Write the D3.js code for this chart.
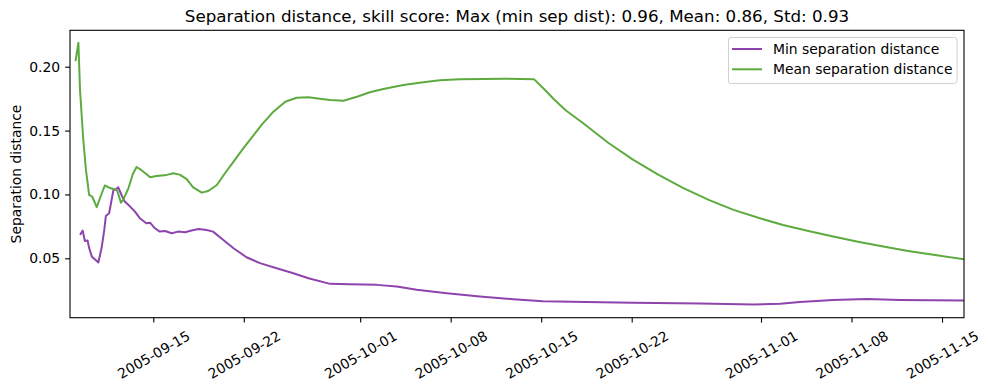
<!DOCTYPE html>
<html>
<head>
<meta charset="utf-8">
<script src="https://cdn.jsdelivr.net/npm/d3@7"></script>
<style>
  body { margin: 0; background: #fff; }
  svg { display: block; font-family: "DejaVu Sans", sans-serif; }
</style>
</head>
<body>
<svg id="chart" width="989" height="390"></svg>
<script>
const titleText = "Separation distance, skill score: Max (min sep dist): 0.96, Mean: 0.86, Std: 0.93";
const yLabel = "Separation distance";
const seriesNames = ["Min separation distance", "Mean separation distance"];
const seriesColors = ["#8e44ad", "#5dab3f"];

const xTickLabels = ["2005-09-15", "2005-09-22", "2005-10-01", "2005-10-08", "2005-10-15", "2005-10-22", "2005-11-01", "2005-11-08", "2005-11-15"];
const yTickValues = [0.05, 0.10, 0.15, 0.20];
const xDomain = ["2005-09-08T13:24", "2005-11-16T16:48"];
const yDomain = [0.0035, 0.2285];

const minTimes = [
  "2005-09-09T09:00","2005-09-09T13:00","2005-09-09T17:00","2005-09-09T22:00","2005-09-10T01:00",
  "2005-09-10T06:00","2005-09-10T12:00","2005-09-10T18:00","2005-09-11T00:00","2005-09-11T05:00",
  "2005-09-11T08:00","2005-09-11T14:00","2005-09-11T22:00","2005-09-12T03:00","2005-09-12T07:00",
  "2005-09-12T13:00","2005-09-12T19:00","2005-09-13T05:00","2005-09-13T14:00","2005-09-13T23:00",
  "2005-09-14T11:00","2005-09-14T18:00","2005-09-15T03:00","2005-09-15T12:00","2005-09-15T22:00",
  "2005-09-16T10:00","2005-09-16T22:00","2005-09-17T11:00","2005-09-17T23:00","2005-09-18T12:00",
  "2005-09-19T03:00","2005-09-19T15:00","2005-09-20T10:00","2005-09-21T05:00","2005-09-22T05:00",
  "2005-09-23T06:00","2005-09-24T13:00","2005-09-25T20:00","2005-09-27T00:00","2005-09-28T16:00",
  "2005-09-30T05:00","2005-10-02T07:00","2005-10-03T20:00","2005-10-05T09:00","2005-10-07T17:00",
  "2005-10-10T06:00","2005-10-12T20:00","2005-10-15T03:00","2005-10-18T12:00","2005-10-22T02:00",
  "2005-10-27T07:00","2005-10-31T09:00","2005-11-02T12:00","2005-11-04T00:00","2005-11-06T14:00",
  "2005-11-09T05:00","2005-11-11T18:00","2005-11-16T17:00"
];
const minValues = [
  0.0690,0.0717,0.0635,0.0640,0.0580,
  0.0513,0.0490,0.0467,0.0580,0.0720,
  0.0832,0.0853,0.1035,0.1040,0.1056,
  0.0996,0.0944,0.0905,0.0865,0.0814,
  0.0775,0.0779,0.0735,0.0709,0.0714,
  0.0696,0.0709,0.0704,0.0717,0.0730,
  0.0722,0.0709,0.0644,0.0579,0.0508,
  0.0462,0.0422,0.0383,0.0344,0.0300,
  0.0297,0.0292,0.0279,0.0253,0.0227,
  0.0201,0.0180,0.0164,0.0157,0.0153,
  0.0146,0.0138,0.0145,0.0157,0.0174,
  0.0182,0.0174,0.0169
];

const meanTimes = [
  "2005-09-09T00:00","2005-09-09T05:00","2005-09-09T08:00","2005-09-09T14:00","2005-09-09T19:00",
  "2005-09-10T01:00","2005-09-10T04:00","2005-09-10T07:00","2005-09-10T15:00","2005-09-10T21:00",
  "2005-09-11T06:00","2005-09-11T16:00","2005-09-11T22:00","2005-09-12T05:00","2005-09-12T12:00",
  "2005-09-12T16:00","2005-09-13T02:00","2005-09-13T10:00","2005-09-13T17:00","2005-09-14T02:00",
  "2005-09-14T11:00","2005-09-14T18:00","2005-09-15T06:00","2005-09-16T01:00","2005-09-16T13:00",
  "2005-09-17T01:00","2005-09-17T14:00","2005-09-18T02:00","2005-09-18T18:00","2005-09-19T06:00",
  "2005-09-19T22:00","2005-09-20T13:00","2005-09-21T05:00","2005-09-21T23:00","2005-09-23T09:00",
  "2005-09-24T07:00","2005-09-25T05:00","2005-09-26T02:00","2005-09-27T00:00","2005-09-27T21:00",
  "2005-09-28T16:00","2005-09-29T17:00","2005-09-30T18:00","2005-10-01T18:00","2005-10-02T19:00",
  "2005-10-04T08:00","2005-10-05T21:00","2005-10-07T04:00","2005-10-08T17:00","2005-10-10T12:00",
  "2005-10-12T02:00","2005-10-13T09:00","2005-10-14T11:00","2005-10-15T09:00","2005-10-16T00:00",
  "2005-10-16T22:00","2005-10-18T06:00","2005-10-20T05:00","2005-10-22T03:00","2005-10-24T02:00",
  "2005-10-26T00:00","2005-10-27T23:00","2005-10-29T21:00","2005-10-31T19:00","2005-11-02T17:00",
  "2005-11-04T16:00","2005-11-06T14:00","2005-11-08T12:00","2005-11-10T11:00","2005-11-12T09:00",
  "2005-11-14T08:00","2005-11-16T17:00"
];
const meanValues = [
  0.2052,0.2188,0.1818,0.1430,0.1192,
  0.0995,0.0990,0.0980,0.0900,0.0970,
  0.1070,0.1050,0.1043,0.1030,0.0936,
  0.0957,0.1050,0.1160,0.1215,0.1190,
  0.1160,0.1135,0.1145,0.1153,0.1166,
  0.1155,0.1120,0.1056,0.1014,0.1027,
  0.1074,0.1166,0.1257,0.1360,0.1544,
  0.1648,0.1726,0.1757,0.1760,0.1750,
  0.1739,0.1734,0.1765,0.1800,0.1825,
  0.1857,0.1878,0.1894,0.1901,0.1904,
  0.1906,0.1904,0.1901,0.1810,0.1743,
  0.1657,0.1557,0.1403,0.1270,0.1153,
  0.1049,0.0957,0.0879,0.0817,0.0761,
  0.0714,0.0670,0.0630,0.0592,0.0558,
  0.0527,0.0493
];

const W = 989, H = 390;
const plot = { left: 70, right: 964, top: 30.3, bottom: 317.7 };
const parse = d3.isoParse;

const svg = d3.select("#chart");
const x = d3.scaleTime().domain(xDomain.map(parse)).range([plot.left, plot.right]);
const y = d3.scaleLinear().domain(yDomain).range([plot.bottom, plot.top]);

svg.append("defs").append("clipPath").attr("id", "clip")
  .append("rect").attr("x", plot.left).attr("y", plot.top)
  .attr("width", plot.right - plot.left).attr("height", plot.bottom - plot.top);

const series = [
  { name: seriesNames[0], color: seriesColors[0], data: minTimes.map((t, i) => ({ t: parse(t), v: minValues[i] })) },
  { name: seriesNames[1], color: seriesColors[1], data: meanTimes.map((t, i) => ({ t: parse(t), v: meanValues[i] })) }
];

const line = d3.line().x(d => x(d.t)).y(d => y(d.v)).curve(d3.curveLinear);
const g = svg.append("g").attr("clip-path", "url(#clip)");
series.forEach(s => {
  g.append("path").datum(s.data).attr("d", line)
    .attr("fill", "none").attr("stroke", s.color).attr("stroke-width", 2)
    .attr("stroke-linejoin", "round").attr("stroke-linecap", "square");
});

const fs = 13.9;
// x axis
const xAxis = d3.axisBottom(x).tickValues(xTickLabels.map(parse)).tickSize(4.9).tickPadding(4.9)
  .tickFormat(d3.timeFormat("%Y-%m-%d"));
const gx = svg.append("g").attr("transform", `translate(0,${plot.bottom})`).call(xAxis);
gx.select(".domain").remove();
gx.selectAll(".tick line").attr("stroke", "#000").attr("stroke-width", 1.1);
gx.selectAll(".tick text").each(function() {
  const t = d3.select(this);
  t.attr("font-size", fs).attr("fill", "#000").attr("font-family", "DejaVu Sans")
   .attr("text-anchor", "middle").attr("dominant-baseline", "central").attr("dy", null).attr("y", null);
  const len = this.getComputedTextLength();
  const bh = len * 0.5 + fs * 1.16 * 0.866;
  t.attr("transform", `translate(0,${9.8 + bh / 2}) rotate(-30)`);
});

// y axis
const yAxis = d3.axisLeft(y).tickValues(yTickValues).tickSize(4.9).tickPadding(4.9).tickFormat(d3.format(".2f"));
const gy = svg.append("g").attr("transform", `translate(${plot.left},0)`).call(yAxis);
gy.select(".domain").remove();
gy.selectAll(".tick line").attr("stroke", "#000").attr("stroke-width", 1.1);
gy.selectAll(".tick text").attr("font-size", fs).attr("fill", "#000").attr("font-family", "DejaVu Sans");

// frame
svg.append("rect").attr("x", plot.left).attr("y", plot.top)
  .attr("width", plot.right - plot.left).attr("height", plot.bottom - plot.top)
  .attr("fill", "none").attr("stroke", "#000").attr("stroke-width", 1.1);

// title
svg.append("text").attr("x", (plot.left + plot.right) / 2).attr("y", 22)
  .attr("text-anchor", "middle").attr("font-size", 16.7).attr("fill", "#000").text(titleText);

// y label
svg.append("text").attr("transform", `translate(21,${(plot.top + plot.bottom) / 2}) rotate(-90)`)
  .attr("text-anchor", "middle").attr("font-size", fs).attr("fill", "#000").text(yLabel);

// legend
const lg = svg.append("g");
lg.append("rect").attr("x", 728.5).attr("y", 37.5).attr("width", 228.5).attr("height", 46)
  .attr("rx", 2.5).attr("fill", "#fff").attr("fill-opacity", 0.8).attr("stroke", "#d0d0d0").attr("stroke-width", 1);
series.forEach((s, i) => {
  const yy = 49 + i * 20.3;
  lg.append("line").attr("x1", 732).attr("x2", 762).attr("y1", yy).attr("y2", yy)
    .attr("stroke", s.color).attr("stroke-width", 2);
  lg.append("text").attr("x", 773).attr("y", yy).attr("dominant-baseline", "central")
    .attr("font-size", fs).attr("fill", "#000").text(s.name);
});
</script>
</body>
</html>
